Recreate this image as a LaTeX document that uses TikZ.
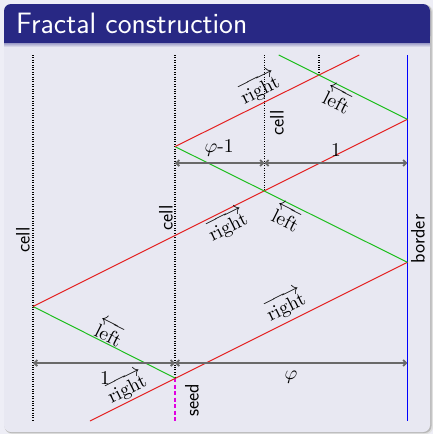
\documentclass[tikz,border=0pt]{standalone}
\usepackage{amsmath}
\usepackage{graphicx}
\usetikzlibrary{arrows.meta}
\definecolor{pagebg}{RGB}{238,238,246}
\definecolor{titlebg}{RGB}{40,40,132}
\definecolor{bodybg}{RGB}{232,232,242}
\definecolor{redl}{RGB}{228,32,32}
\definecolor{greenl}{RGB}{30,190,30}
\definecolor{dimg}{RGB}{105,105,105}
\definecolor{magl}{RGB}{225,0,225}
\newcommand{\fracbigmath}[1]{\scalebox{1.95}{#1}}
\begin{document}
\begin{tikzpicture}[x=1pt,y=-1pt,
  lbl/.style={font=\sffamily\fontsize{19.5}{22}\selectfont, inner sep=0pt},
  mlbl/.style={inner sep=0pt},
  ttl/.style={font=\sffamily\fontsize{29.5}{32}\selectfont, text=white, inner sep=0pt},
  celline/.style={line width=1.2pt, dash pattern=on 1pt off 1.4pt},
  rline/.style={redl, line width=1pt},
  gline/.style={greenl, line width=1pt},
  measure/.style={dimg, line width=1.8pt, {Straight Barb[length=3pt,width=6pt]}-{Straight Barb[length=3pt,width=6pt]}}
]
\useasboundingbox (0,0) rectangle (433,434);
% background and block
\fill[pagebg] (0,0) rectangle (433,434);
\fill[black!12, rounded corners=7pt] (5,5) rectangle (433,434);
\fill[black!28, rounded corners=7pt] (4.5,4.5) rectangle (431.5,433);
\fill[bodybg, rounded corners=7pt] (4,4) rectangle (430,432);
\fill[titlebg, rounded corners=7pt] (4,4) rectangle (430,43);
\fill[titlebg] (4,25) rectangle (430,43);
\shade[top color=bodybg!60!titlebg, bottom color=bodybg] (4,43) rectangle (430,47);
\node[ttl, anchor=base west] (title) at (16,33) {Fractal construction};

% coordinates
\coordinate (c0t) at (33,55);     \coordinate (c0b) at (33,421);
\coordinate (c1t) at (175,55);
\coordinate (c2t) at (264.4,55);
\coordinate (c3t) at (319,55);
\coordinate (bt) at (407.4,55);   \coordinate (bb) at (407.4,421);
\coordinate (S) at (175,378);     \coordinate (Sb) at (175,421);
\coordinate (A) at (33,306.5);
\coordinate (B) at (407.4,262.3);
\coordinate (C) at (407.4,119.3);
\coordinate (D) at (175,146.6);
\coordinate (E) at (264.4,190.8);
\coordinate (F) at (319,75.1);
\coordinate (Rtop) at (359.3,55);
\coordinate (Gtop) at (278.7,55);
\coordinate (Rbot) at (90,421);
\coordinate (m1a) at (175,163);   \coordinate (m1b) at (264.4,163); \coordinate (m1c) at (407.4,163);
\coordinate (m2a) at (33,363);    \coordinate (m2b) at (175,363);   \coordinate (m2c) at (407.4,363);

% cell lines
\draw[celline] (c0t) -- (c0b);
\draw[celline] (c1t) -- (S);
\draw[celline] (c2t) -- (E);
\draw[celline] (c3t) -- (F);
\draw[magl, line width=1.2pt, dash pattern=on 4pt off 2.5pt] (S) -- (Sb);
\draw[blue, line width=1.2pt] (bt) -- (bb);

% signals
\draw[rline] (Rbot) -- (B);
\draw[gline] (S) -- (A);
\draw[rline] (A) -- (C);
\draw[gline] (B) -- (D);
\draw[rline] (D) -- (Rtop);
\draw[gline] (C) -- (Gtop);

% measures
\draw[measure] (m1a) -- (m1b);
\draw[measure] (m1b) -- (m1c);
\draw[measure] (m2a) -- (m2b);
\draw[measure] (m2b) -- (m2c);

% labels
\node[lbl, rotate=90] (cellA) at (23,240) {cell};
\node[lbl, rotate=90] (cellB) at (166,218) {cell};
\node[lbl, rotate=90] (cellC) at (277,123) {cell};
\node[lbl, rotate=90] (border) at (418,239) {border};
\node[lbl, rotate=90] (seed) at (192,400) {seed};

\node[mlbl, rotate=26.57] (r1) at (259,88) {\fracbigmath{$\overrightarrow{\mathrm{right}}$}};
\node[mlbl, rotate=-26.57] (l1) at (338,99) {\fracbigmath{$\overleftarrow{\mathrm{left}}$}};
\node[mlbl, rotate=26.57] (r2) at (227,225) {\fracbigmath{$\overrightarrow{\mathrm{right}}$}};
\node[mlbl, rotate=-26.57] (l2) at (287,217) {\fracbigmath{$\overleftarrow{\mathrm{left}}$}};
\node[mlbl, rotate=26.57] (r3) at (285,305) {\fracbigmath{$\overrightarrow{\mathrm{right}}$}};
\node[mlbl, rotate=-26.57] (l3) at (110,332) {\fracbigmath{$\overleftarrow{\mathrm{left}}$}};
\node[mlbl, rotate=26.57] (r4) at (126,387) {\fracbigmath{$\overrightarrow{\mathrm{right}}$}};

\node[mlbl] (phim1) at (219,148) {\fracbigmath{$\varphi$-$1$}};
\node[mlbl] (one1) at (336,150) {\fracbigmath{$1$}};
\node[mlbl] (one2) at (105,378) {\fracbigmath{$1$}};
\node[mlbl] (phi) at (291,377) {\fracbigmath{$\varphi$}};
\end{tikzpicture}
\end{document}
